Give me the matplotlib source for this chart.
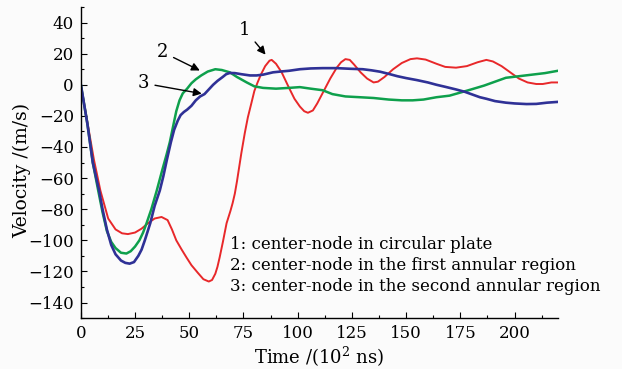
import matplotlib
matplotlib.use('Agg')
import matplotlib.pyplot as plt
from matplotlib.ticker import MultipleLocator

plt.rcParams['font.family'] = ['DejaVu Serif']
plt.rcParams['mathtext.fontset'] = 'dejavuserif'

# curve 1: center-node in circular plate
t1 = [0, 3, 6, 9, 12.6, 16, 19, 21.7, 25, 28, 31, 34, 37.2, 40, 42, 44, 46.5, 48.7,
      51, 54, 56.5, 59, 60.5, 62, 63, 64, 65.5, 67.2, 69, 70, 71, 72, 73, 74, 75.6, 77,
      78.6, 80, 81.5, 83, 85, 87, 88, 90, 92.6, 96, 98.5, 101, 103, 104.7, 107, 109,
      112, 115, 118, 120, 122, 124, 126, 129, 132, 135, 137, 140, 144, 148, 152, 155,
      159, 164, 168, 173, 178, 183, 187, 190, 194, 198, 202, 206, 210, 213, 217, 220]
v1 = [0, -24, -48, -68, -86, -93, -95.5, -96, -95, -92.5, -89, -86, -85, -87, -93, -100,
      -106, -111, -116, -121, -125, -126.5, -125.5, -121.5, -117, -111, -101, -89, -81,
      -76, -70, -62, -53, -44, -31, -21, -12, -4, 1.5, 6.5, 12, 15.5, 16, 13.5, 8, -2,
      -9, -14, -17, -18, -16.5, -12, -4, 4, 11, 14.5, 16.5, 16, 13, 8, 4, 1.5, 2, 5, 10,
      14, 16.5, 17, 16.2, 13.5, 11.5, 11, 12, 14.5, 16, 15, 12, 8, 4, 1.5, 0.5, 0.5,
      1.5, 1.5]

# curve 2: center-node in the first annular region
t2 = [0, 3, 5.5, 8, 10, 12, 14, 16, 18.5, 21, 23, 25, 27, 28.7, 30.3, 32.5, 35, 37.5,
      39.5, 41, 42.5, 44, 45.5, 47, 49, 51, 53, 55.5, 58.5, 62, 65, 68.7, 72, 76.5, 80,
      84, 90, 96, 101, 106, 111.5, 116, 122, 128.6, 135, 142, 148, 153, 158, 164, 170,
      175, 180, 186, 191, 196, 202, 208, 214, 220]
v2 = [0, -25, -50, -68, -82, -94, -101, -105, -108, -108.5, -107, -104, -100, -95, -89,
      -80, -68, -55, -45, -37, -27, -17, -10, -5.5, -2.5, 1, 3.5, 6, 8.5, 10, 9.5, 8, 5,
      1.5, -1, -2, -2.5, -2, -1.5, -2.5, -3.5, -6, -7.5, -8, -8.5, -9.5, -10, -10, -9.5,
      -8, -7, -5, -3, -0.5, 2, 4.5, 5.5, 6.5, 7.5, 9]

# curve 3: center-node in the second annular region
t3 = [0, 3, 5.5, 8.4, 10, 12, 14, 16, 18.5, 20.5, 22.5, 24.5, 26.5, 28, 29.5, 32, 34,
      36.4, 38, 39.7, 41.5, 43, 44.7, 46, 47.5, 49, 51, 53, 55, 57, 59, 61, 63, 65.4,
      67, 68.7, 71, 74, 78, 81, 84, 88.6, 92, 96, 101, 106, 111.5, 118, 124, 130, 134,
      138, 142, 146, 150, 155, 160, 164, 168, 173, 177, 180, 184, 187, 191, 196, 200,
      205.5, 210, 215, 220]
v3 = [0, -25, -50, -68, -80, -93, -103, -109, -113, -114.5, -115, -114, -110, -106,
      -100, -89, -78, -68, -59, -48, -37, -29, -23, -19.5, -17.5, -16, -13.5, -10,
      -7.5, -6, -3, 0, 2.5, 5, 6.8, 7.6, 7.5, 6.8, 6, 6, 6.5, 8, 8.5, 9, 10, 10.5,
      10.7, 10.7, 10.3, 10, 9.3, 8.4, 7, 5.5, 4.3, 3, 1.5, 0, -1.3, -3, -4.5, -6, -8,
      -9, -10.5, -11.5, -12, -12.4, -12.3, -11.5, -11]

legend_lines = ['1: center-node in circular plate',
                '2: center-node in the first annular region',
                '3: center-node in the second annular region']

fig = plt.figure(figsize=(6.22, 3.69), dpi=100, facecolor='#fbfbfb')
ax = fig.add_axes([0.130, 0.138, 0.767, 0.843])
ax.set_facecolor('#fbfbfb')

ax.plot(t1, v1, color='#e8282a', lw=1.4)
ax.plot(t2, v2, color='#0ea04c', lw=1.8)
ax.plot(t3, v3, color='#2f3196', lw=1.9)

ax.set_xlim(0, 220)
ax.set_ylim(-150, 50)
ax.xaxis.set_major_locator(MultipleLocator(25))
ax.xaxis.set_minor_locator(MultipleLocator(12.5))
ax.yaxis.set_minor_locator(MultipleLocator(10))
ax.set_yticks(range(-140, 41, 20))
ax.tick_params(which='major', direction='in', length=4, width=0.8, labelsize=12, pad=5)
ax.tick_params(which='minor', direction='in', length=2.5, width=0.8)
for s in ['top', 'right']:
    ax.spines[s].set_visible(False)
for s in ['left', 'bottom']:
    ax.spines[s].set_linewidth(1.0)

ax.set_xlabel('Time /(10$^{2}$ ns)', fontsize=13, labelpad=2)
ax.set_ylabel('Velocity /(m/s)', fontsize=13.5)
ax.yaxis.set_label_coords(-0.105, 0.476)

arrow = dict(arrowstyle='-|>', color='black', lw=1.0, mutation_scale=12)
ax.annotate('1', xy=(86, 18), xytext=(75.6, 35.5), fontsize=13, ha='center', va='center',
            arrowprops=arrow)
ax.annotate('2', xy=(56, 8.4), xytext=(37.7, 21), fontsize=13, ha='center', va='center',
            arrowprops=arrow)
ax.annotate('3', xy=(57, -6), xytext=(29, 1), fontsize=13, ha='center', va='center',
            arrowprops=arrow)

for i, txt in enumerate(legend_lines):
    ax.text(68.7, -103 - 13.5 * i, txt, fontsize=12, va='center', ha='left')

fig.savefig('out.png', dpi=100, facecolor=fig.get_facecolor())
